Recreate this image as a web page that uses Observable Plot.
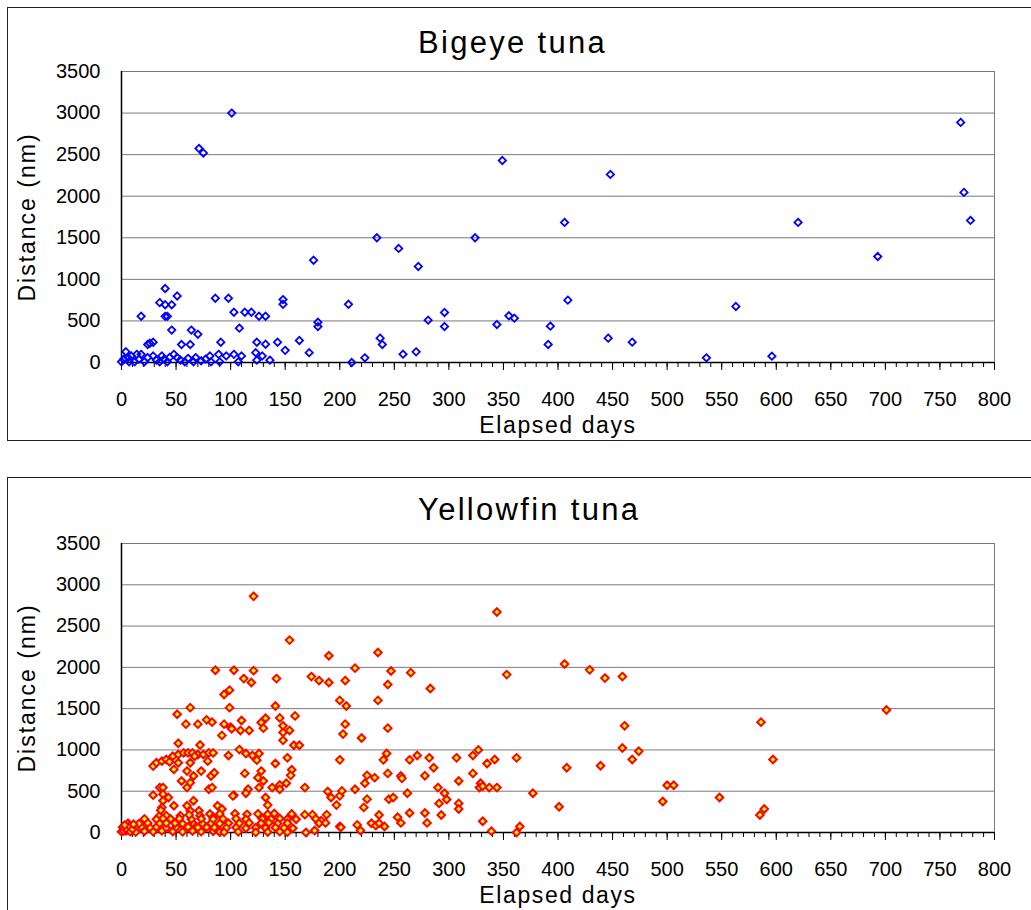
<!DOCTYPE html>
<html><head><meta charset="utf-8">
<script src="https://cdn.jsdelivr.net/npm/d3@7"></script>
<script src="https://cdn.jsdelivr.net/npm/@observablehq/plot@0.6"></script>
<style>
html,body{margin:0;padding:0;background:#fff;overflow:hidden;}
#wrap{position:relative;width:1031px;height:910px;overflow:hidden;font-family:"Liberation Sans",Arial,sans-serif;}
.box{position:absolute;border:1px solid #222;box-sizing:border-box;}
.title{position:absolute;font-size:31px;letter-spacing:2.3px;color:#000;white-space:nowrap;line-height:1;}
.panel{position:absolute;left:0;}
g[aria-label="x-axis label"] text{letter-spacing:1.6px;}
g[aria-label="y-axis label"] text{letter-spacing:2px;}
</style></head>
<body>
<div id="wrap">
  <div class="box" style="left:7px;top:7px;width:1040px;height:434px;"></div>
  <div class="box" style="left:7px;top:477px;width:1040px;height:460px;"></div>
  <div id="p1" class="panel" style="top:0px;"></div>
  <div id="p2" class="panel" style="top:470px;"></div>
  <div class="title" style="left:418px;top:27px;">Bigeye tuna</div>
  <div class="title" style="left:418px;top:494px;">Yellowfin tuna</div>
</div>
<script>
// ---- data ----
const xTicks = [0,50,100,150,200,250,300,350,400,450,500,550,600,650,700,750,800];
const xMinorTicks = d3.range(0, 801, 10);
const yTicks = [0,500,1000,1500,2000,2500,3000,3500];

const bigeyeDays = [
 101,71,75,176,40,35,40,46,51,18,40,42,86,98,103,113,119,126,132,148,148,46,64,70,108,24,26,29,55,63,91,124,132,143,163,180,180,
 0,4,7,9,12,14,18,21,29,35,37,42,48,51,58,66,68,73,81,82,89,90,96,103,107,110,123,124,129,136,150,172,2,6,16,24,32,39,44,54,61,77,
 208,211,223,234,237,239,254,258,270,272,281,296,296,324,344,349,355,360,391,393,406,409,446,448,468,536,563,596,620,693,769,772,778
];
const bigeyeDist = [
 3000,2575,2520,1230,890,720,695,695,800,557,555,555,773,773,605,605,605,557,557,757,700,390,390,340,413,217,232,244,216,216,244,244,220,244,265,485,432,
 8,130,8,79,8,98,98,8,79,8,79,8,98,59,8,8,59,20,79,8,98,8,79,98,8,79,118,28,79,28,146,118,40,60,40,60,30,40,60,30,50,40,
 700,0,56,1500,293,217,1372,100,128,1155,509,602,433,1500,457,2430,562,533,217,437,1685,750,293,2262,245,56,674,76,1685,1275,2888,2046,1709
];

const yellowfinDays = [
 86,103,94,99,63,99,51,59,70,78,83,94,100,101,92,52,72,98,29,32,37,41,47,52,57,61,65,70,75,80,84,52,44,48,60,63,67,73,79,82,85,66,55,63,60,80,83,29,35,38,38,43,38,48,60,66,63,71,88,92,103,37,35,41,54,72,81,84,
 121,154,190,121,112,119,142,174,181,190,205,200,206,141,159,110,132,128,145,109,117,130,148,154,148,148,205,203,158,163,108,114,120,126,124,152,141,200,156,128,113,125,130,155,151,145,138,126,145,116,114,168,102,189,192,200,202,132,134,197,168,175,188,200,183,177,169,
 235,214,247,265,244,283,235,244,220,243,240,264,271,282,307,286,225,223,232,244,256,257,278,309,214,290,225,245,249,262,296,298,291,309,309,222,236,253,264,278,293,256,280,229,233,236,241,216,219,201,
 344,353,406,322,327,335,342,362,408,322,329,328,331,337,344,377,401,331,339,365,362,
 429,443,459,461,459,474,468,439,500,506,496,548,586,597,589,585,701,
 0,4,13,21,29,37,47,56,65,73,84,90,
 1,9,18,26,32,41,50,61,70,78,85,
 6,16,24,35,41,49,56,65,74,82,90,
 21,32,38,45,53,64,73,84,62,36,
 90,104,115,125,134,140,156,
 93,105,114,129,137,145,152,160,178,
 98,108,117,128,135,143,152,181,187,
 96,105,114,123,132,141,149,157,
 94,107,123,134,145,152,
 2,3,5,7,8,10,11,3
];
const yellowfinDist = [
 1965,1965,1672,1724,1512,1512,1432,1312,1312,1364,1336,1312,1276,1256,1176,1080,1060,932,804,844,864,884,924,944,964,964,964,944,944,964,964,844,856,764,744,844,924,744,864,684,724,684,624,604,544,524,544,452,544,544,464,424,384,324,324,384,264,264,324,284,452,304,204,204,204,204,224,184,
 2860,2330,2140,1960,1864,1816,1864,1888,1840,1816,1840,1600,1532,1532,1412,1356,1384,1332,1388,1236,1236,1264,1292,1236,1212,1116,1312,1192,1056,1056,1004,956,932,956,876,904,836,880,760,744,716,664,624,692,596,576,544,544,524,524,476,544,444,496,424,444,504,424,332,332,216,216,216,72,144,24,0,
 2180,1990,1956,1936,1792,1744,1600,1264,1144,956,880,880,932,904,904,784,692,596,664,716,684,656,688,624,524,544,404,404,424,476,476,400,352,352,284,304,212,184,236,236,212,116,116,112,84,112,72,92,24,64,
 2670,1912,2040,932,1000,836,884,904,784,716,596,544,560,544,544,476,312,136,16,72,0,
 1970,1870,1888,1292,1024,984,884,808,572,572,376,424,1336,884,284,212,1484,
 10,20,5,15,10,20,12,8,18,10,15,6,
 64,60,70,62,66,58,64,68,60,64,62,
 112,108,116,110,114,112,106,118,110,112,108,
 165,160,170,164,168,160,166,162,213,270,
 225,228,220,226,222,230,224,
 165,168,160,166,162,170,164,160,166,
 113,110,116,112,118,108,114,112,116,
 56,60,52,58,54,60,56,52,
 4,8,2,6,10,4,
 20,50,30,80,10,40,100,90
];

// ---- chart ----
function panel(days, dist, dotOpts, marginTop, marginBottom) {
  const data = days.map((d, i) => ({day: d, dist: dist[i]}));
  return Plot.plot({
    width: 1031,
    height: 440,
    marginTop, marginBottom,
    marginLeft: 121,
    marginRight: 37,
    style: {fontFamily: "'Liberation Sans', Arial, sans-serif", color: "#000", background: "transparent", overflow: "visible"},
    x: {domain: [0, 800]},
    y: {domain: [0, 3500]},
    marks: [
      Plot.gridY(yTicks.filter(v => v > 0 && v < 3500), {stroke: "#7a7a7a", strokeOpacity: 1, strokeWidth: 1}),
      Plot.frame({stroke: "#7a7a7a"}),
      Plot.axisX({ticks: xMinorTicks, tickSize: 5, text: null, label: null}),
      Plot.axisX({ticks: xTicks, tickSize: 8, tickPadding: 21, fontSize: 20, tickFormat: d => String(d), label: null}),
      Plot.axisX({ticks: [], tickSize: 0, fontSize: 23, label: "Elapsed days", labelAnchor: "center", labelOffset: 70, labelArrow: "none"}),
      Plot.axisY({ticks: yTicks, tickSize: 0, tickPadding: 21, fontSize: 20, tickFormat: d => String(d), label: null}),
      Plot.axisY({ticks: [], tickSize: 0, fontSize: 23, label: "Distance (nm)", labelAnchor: "center", labelOffset: 103, labelArrow: "none"}),
      Plot.ruleX([0], {stroke: "#000", strokeWidth: 1.5}),
      Plot.ruleY([0], {stroke: "#000", strokeWidth: 1.5}),
      Plot.dot(data, {x: "day", y: "dist", symbol: "diamond2", ...dotOpts})
    ]
  });
}

document.getElementById("p1").appendChild(
  panel(bigeyeDays, bigeyeDist, {r: 3.3, stroke: "#0000ff", strokeWidth: 1.8, fill: "none"}, 71, 78)
);
document.getElementById("p2").appendChild(
  panel(yellowfinDays, yellowfinDist, {r: 3.4, stroke: "#ff0000", strokeWidth: 2, fill: "#ffff00"}, 73, 78)
);
</script>
</body></html>
